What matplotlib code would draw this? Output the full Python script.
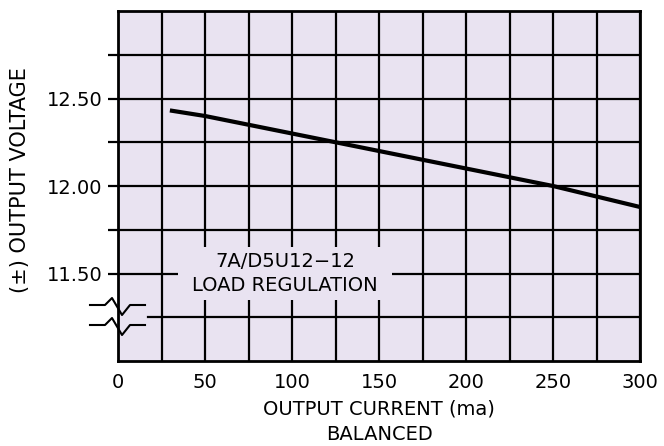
import numpy as np
import matplotlib
matplotlib.use('Agg')
import matplotlib.pyplot as plt
from matplotlib.patches import Rectangle

# dados
corrente = [31, 50, 75, 100, 125, 150, 175, 200, 225, 250, 275, 300]
tensao = [12.43, 12.40, 12.35, 12.30, 12.25, 12.20, 12.15, 12.10, 12.05, 12.00, 11.94, 11.88]

x_ticks = [0, 50, 100, 150, 200, 250, 300]
x_minor = [25, 75, 125, 175, 225, 275]
y_ticks = [11.50, 12.00, 12.50]
y_minor = [11.75, 12.25, 12.75]
y_tick_labels = ['11.50', '12.00', '12.50']

fundo = '#e9e3f1'

fig = plt.figure(figsize=(6.64, 4.46), dpi=100)
ax = fig.add_axes([118/664, 1 - 361/446, 522/664, 350/446])
ax.set_facecolor(fundo)
ax.set_xlim(0, 300)
ax.set_ylim(11.0, 13.0)

# grade
ax.set_xticks(x_ticks)
ax.set_xticklabels([str(v) for v in x_ticks])
ax.set_xticks(x_minor, minor=True)
ax.set_yticks(y_ticks)
ax.set_yticklabels(y_tick_labels)
ax.set_yticks(y_minor, minor=True)
ax.grid(True, which='both', color='black', linewidth=1.6)
ax.set_axisbelow(True)
# linha de 11.25 comeca depois da quebra
ax.axhline(11.25, xmin=17/300, color='black', linewidth=1.6, zorder=0.6)

ax.tick_params(axis='x', which='both', length=0, labelsize=14, pad=9)
ax.tick_params(axis='y', which='both', length=7, width=1.6, direction='out', labelsize=14, pad=4)
for s in ax.spines.values():
    s.set_linewidth(2)

# caixa do texto esconde a grade
ax.add_patch(Rectangle((34.5, 11.35), 123, 0.30, facecolor=fundo, edgecolor='none', zorder=1))
ax.text(96, 11.50, '7A/D5U12\u221212\nLOAD REGULATION', ha='center', va='center',
        fontsize=14, linespacing=1.3, zorder=2)

# curva
ax.plot(corrente, tensao, color='black', linewidth=3, zorder=3)

# simbolo de quebra do eixo
zx = np.array([90, 105, 112, 122, 130, 145])
zy = np.array([0, 0, -7, 10, 0, 0])
for base in [305, 325]:
    fig.add_artist(plt.Line2D(zx / 664, 1 - (base + zy) / 446, color='black', linewidth=1.5))

ax.set_xlabel('OUTPUT CURRENT (ma)\nBALANCED', fontsize=14, linespacing=1.45, labelpad=5)
fig.text(20 / 664, 1 - 180 / 446, '(\u00b1) OUTPUT VOLTAGE', rotation=90, ha='center', va='center', fontsize=15)

fig.savefig('out.png', dpi=100, facecolor='white')
